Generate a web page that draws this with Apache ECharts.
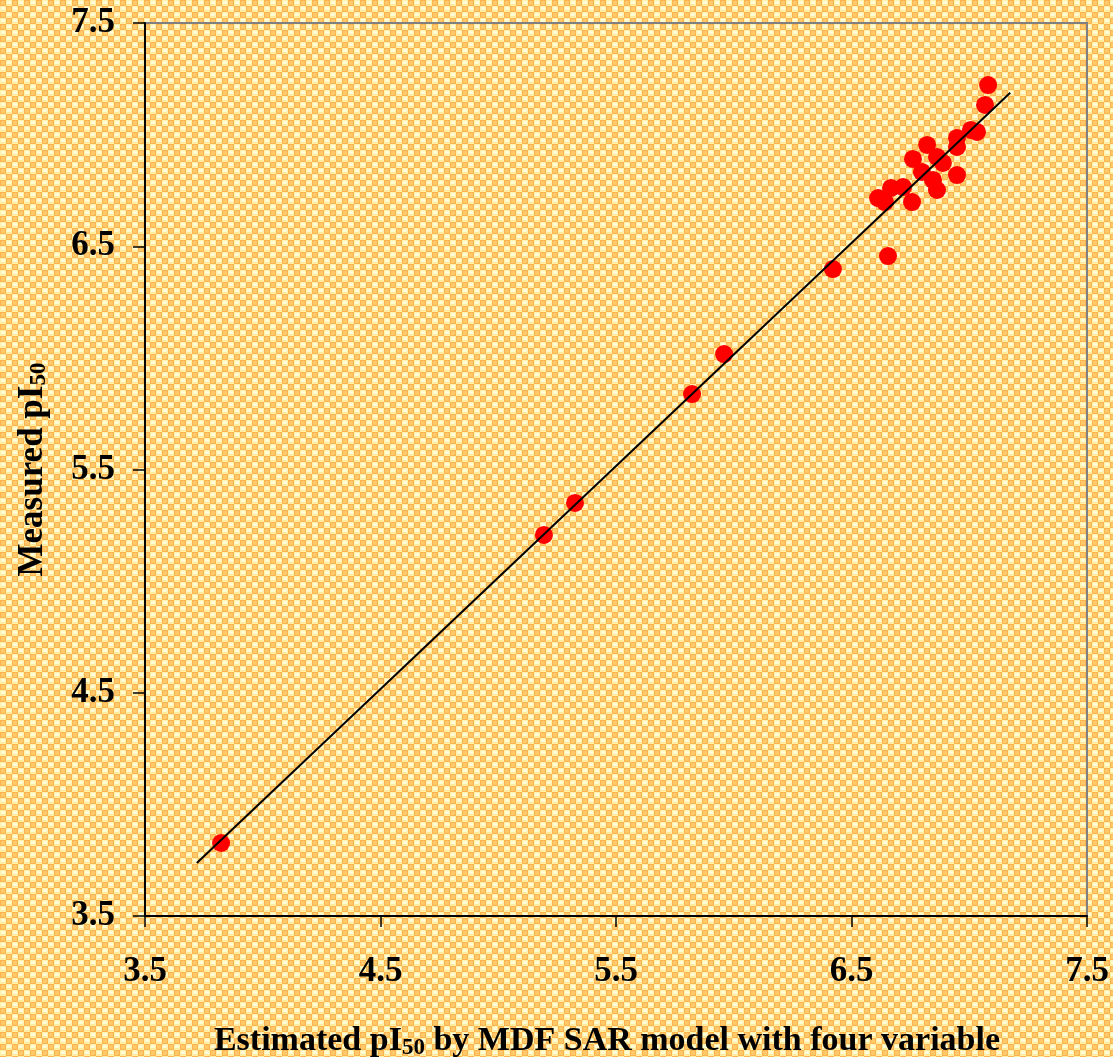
<!DOCTYPE html>
<html>
<head>
<meta charset="utf-8">
<script src="https://cdn.jsdelivr.net/npm/echarts@6/dist/echarts.min.js"></script>
<style>
html,body{margin:0;padding:0;}
#chart{width:1113px;height:1057px;}
</style>
</head>
<body>
<div id="chart"></div>
<script>
// Estimated pI50 (x) and measured pI50 (y)
var estimated = [7.080, 7.067, 7.007, 7.033, 6.948, 6.948, 6.821, 6.761, 6.863, 6.888, 6.948, 6.799, 6.846, 6.863, 6.719, 6.668, 6.757, 6.613, 6.642, 6.655, 6.421, 5.959, 5.823, 5.326, 5.194, 3.823];
var measured  = [7.222, 7.133, 7.021, 7.012, 6.985, 6.945, 6.954, 6.891, 6.900, 6.873, 6.819, 6.833, 6.797, 6.752, 6.765, 6.761, 6.698, 6.716, 6.698, 6.456, 6.398, 6.017, 5.838, 5.350, 5.207, 3.827];
// Trend line end points
var trendX = [3.72, 7.174];
var trendY = [3.737, 7.188];
var tickLabels = ['3.5', '4.5', '5.5', '6.5', '7.5'];

function makeTile() {
  var c = document.createElement('canvas');
  c.width = 12; c.height = 12;
  var g = c.getContext('2d');
  g.fillStyle = '#FFF1A8'; g.fillRect(0, 0, 12, 12);
  g.fillStyle = '#FFB34E';
  g.fillRect(0, 0, 6, 6); g.fillRect(6, 6, 6, 6);
  g.fillStyle = '#FFC96B';
  g.fillRect(1, 1, 4, 4); g.fillRect(7, 7, 4, 4);
  g.fillStyle = '#FFFCDA';
  g.fillRect(7, 1, 4, 3); g.fillRect(1, 7, 4, 3);
  g.fillStyle = '#FFE89C';
  g.fillRect(7, 4, 4, 1); g.fillRect(1, 10, 4, 1);
  return c;
}

var scatterData = estimated.map(function (v, i) { return [v, measured[i]]; });
var lineData = trendX.map(function (v, i) { return [v, trendY[i]]; });

var chart = echarts.init(document.getElementById('chart'), null, {renderer: 'canvas'});
var labelStyle = {fontFamily: 'Liberation Serif', fontWeight: 'bold', fontSize: 35, color: '#000'};
chart.setOption({
  animation: false,
  graphic: [{
    type: 'rect', z: -10, silent: true,
    shape: {x: 0, y: 0, width: 1113, height: 1057},
    style: {fill: {image: makeTile(), repeat: 'repeat'}}
  }],
  grid: {left: 145, top: 23, right: 26, bottom: 141, outerBoundsMode: 'none', containLabel: false, show: true, borderColor: '#808080', borderWidth: 2, backgroundColor: 'transparent'},
  xAxis: {
    type: 'value', min: 3.5, max: 7.5, interval: 1,
    axisLine: {show: true, onZero: false, lineStyle: {color: '#000', width: 2}},
    axisTick: {show: true, length: 11, lineStyle: {color: '#000', width: 1.5}},
    splitLine: {show: false},
    axisLabel: Object.assign({margin: 38, formatter: function (v) { return tickLabels[Math.round(v - 3.5)]; }}, labelStyle),
    name: '{a|Estimated pI}{s|50}{a| by MDF SAR model with four variable}',
    nameLocation: 'middle', nameGap: 106,
    nameTextStyle: {
      padding: [0, 18, 0, 0],
      rich: {
        a: {fontFamily: 'Liberation Serif', fontWeight: 'bold', fontSize: 34, color: '#000'},
        s: {fontFamily: 'Liberation Serif', fontWeight: 'bold', fontSize: 23, color: '#000', padding: [15, 0, 0, 0]}
      }
    }
  },
  yAxis: {
    type: 'value', min: 3.5, max: 7.5, interval: 1,
    axisLine: {show: true, onZero: false, lineStyle: {color: '#000', width: 2}},
    axisTick: {show: true, length: 12, lineStyle: {color: '#000', width: 1.5}},
    splitLine: {show: false},
    axisLabel: Object.assign({margin: 30, formatter: function (v) { return tickLabels[Math.round(v - 3.5)]; }}, labelStyle),
    name: '{a|Measured pI}{s|50}',
    nameLocation: 'middle', nameGap: 94, nameRotate: 90,
    nameTextStyle: {
      rich: {
        a: {fontFamily: 'Liberation Serif', fontWeight: 'bold', fontSize: 35, color: '#000'},
        s: {fontFamily: 'Liberation Serif', fontWeight: 'bold', fontSize: 23, color: '#000', padding: [14, 0, 0, 0]}
      }
    }
  },
  series: [
    {
      type: 'line', data: lineData, symbol: 'none', z: 3,
      lineStyle: {color: '#000', width: 2}
    },
    {
      type: 'scatter', data: scatterData, symbol: 'circle', symbolSize: 18, z: 2,
      itemStyle: {color: '#FF0000', opacity: 1}
    }
  ]
});
</script>
</body>
</html>
